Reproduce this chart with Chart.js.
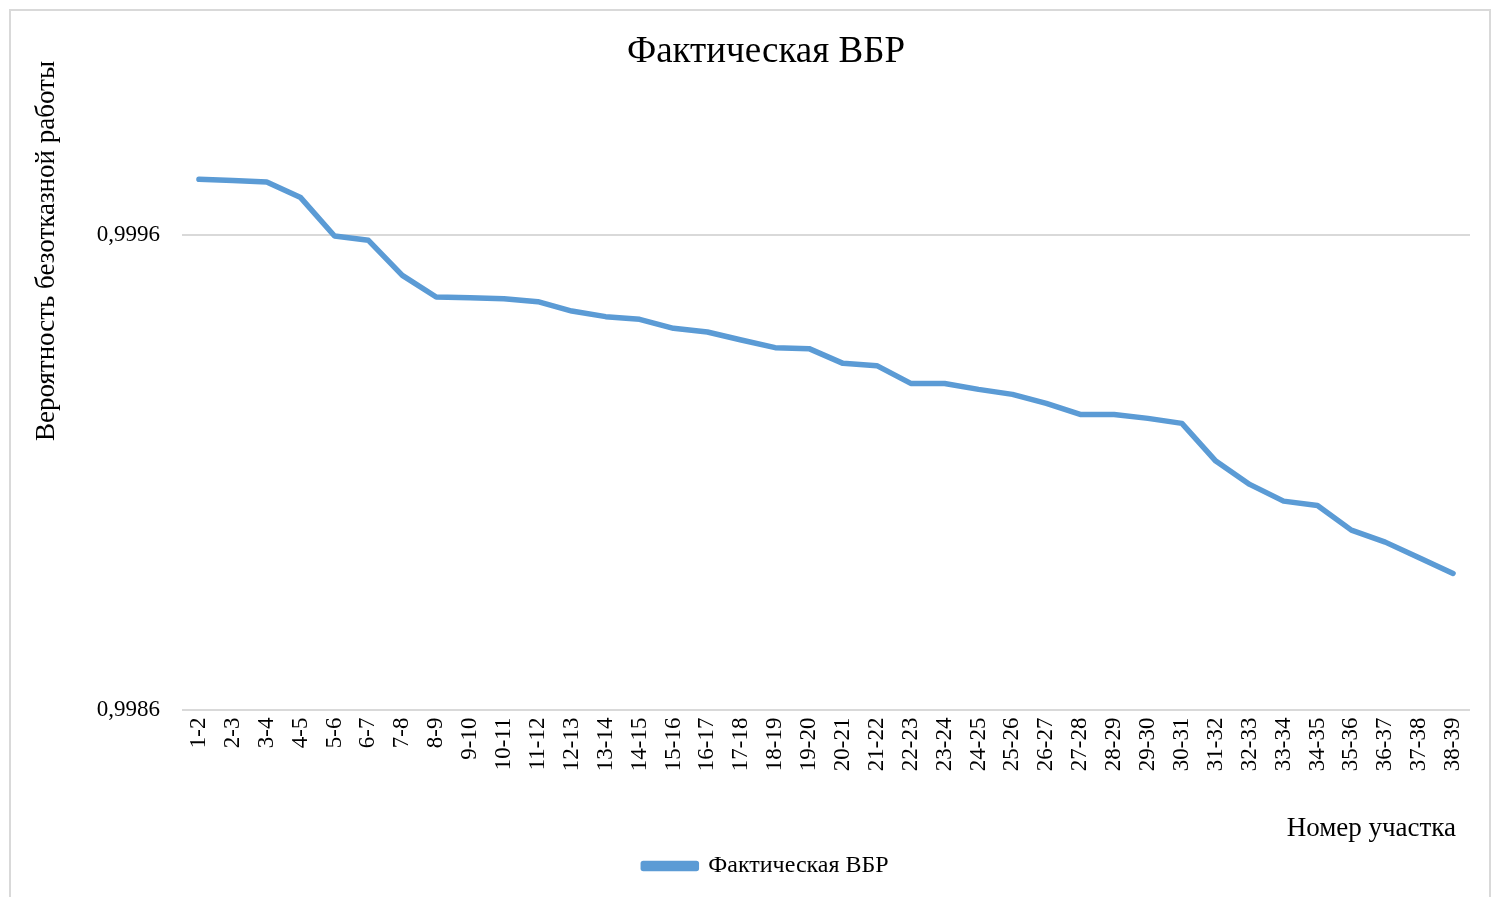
<!DOCTYPE html>
<html lang="ru">
<head>
<meta charset="utf-8">
<title>Фактическая ВБР</title>
<script src="https://cdn.jsdelivr.net/npm/chart.js@4/dist/chart.umd.min.js"></script>
<style>
  html, body { margin: 0; padding: 0; background: #fff; overflow: hidden; }
  #frame {
    position: absolute; left: 9px; top: 9px; width: 1482px; height: 920px;
    border: 2px solid #d9d9d9; box-sizing: border-box;
  }
  #wrap { position: absolute; left: 0; top: 0; width: 1501px; height: 897px; }
</style>
</head>
<body>
<div id="frame"></div>
<div id="wrap"><canvas id="chart" width="1501" height="897"></canvas></div>
<script>
// ── Data ─────────────────────────────────────────────
const sections = [
  '1-2', '2-3', '3-4', '4-5', '5-6', '6-7', '7-8', '8-9', '9-10', '10-11',
  '11-12', '12-13', '13-14', '14-15', '15-16', '16-17', '17-18', '18-19', '19-20', '20-21',
  '21-22', '22-23', '23-24', '24-25', '25-26', '26-27', '27-28', '28-29', '29-30', '30-31',
  '31-32', '32-33', '33-34', '34-35', '35-36', '36-37', '37-38', '38-39'
];

// Фактическая ВБР
const actualPBR = [
  0.9997170, 0.9997142, 0.9997113, 0.9996784, 0.9995975, 0.9995884, 0.9995146, 0.9994689, 0.9994672, 0.9994651,
  0.9994592, 0.9994394, 0.9994276, 0.9994219, 0.9994030, 0.9993952, 0.9993783, 0.9993623, 0.9993602, 0.9993292,
  0.9993243, 0.9992870, 0.9992868, 0.9992744, 0.9992639, 0.9992449, 0.9992217, 0.9992215, 0.9992133, 0.9992027,
  0.9991233, 0.9990742, 0.9990390, 0.9990299, 0.9989779, 0.9989526, 0.9989197, 0.9988866
];

const yTicks = [0.9986, 0.9996];
const Y_MIN = 0.9986;
const Y_MAX = 0.9999;

const Y_TITLE = 'Вероятность безотказной работы';
const X_TITLE = 'Номер участка';

// ── Styles ───────────────────────────────────────────
const SERIF = "'Liberation Serif', 'Times New Roman', serif";
const LINE_BLUE = '#5b9bd5';
const GRID = '#d9d9d9';
const TEXT = '#000000';

// Axis titles sit where Excel put them, not where Chart.js would
const axisTitles = {
  id: 'axisTitles',
  afterDraw(chart) {
    const { ctx, chartArea } = chart;
    ctx.save();
    ctx.fillStyle = TEXT;
    ctx.textBaseline = 'middle';

    // y title: rotated, centred near the top part of the plot
    ctx.font = '27px ' + SERIF;
    ctx.translate(47, 251);
    ctx.rotate(-Math.PI / 2);
    ctx.textAlign = 'center';
    ctx.fillText(Y_TITLE, 0, 0);
    ctx.setTransform(1, 0, 0, 1, 0, 0);

    // x title: right aligned under the tick labels
    ctx.textAlign = 'right';
    ctx.fillText(X_TITLE, chartArea.right - 14, chartArea.bottom + 119);
    ctx.restore();
  },
};

new Chart(document.getElementById('chart'), {
  type: 'line',
  data: {
    labels: sections,
    datasets: [{
      label: 'Фактическая ВБР',
      data: actualPBR,
      borderColor: LINE_BLUE,
      backgroundColor: LINE_BLUE,
      borderWidth: 5.5,
      borderCapStyle: 'round',
      borderJoinStyle: 'round',
      pointRadius: 0,
      tension: 0,
    }],
  },
  options: {
    responsive: false,
    animation: false,
    layout: { padding: { left: 62, right: 31, top: 0, bottom: 9 } },
    plugins: {
      title: {
        display: true,
        text: 'Фактическая ВБР',
        color: TEXT,
        font: { family: SERIF, size: 37, weight: 'normal' },
        padding: { top: 30, bottom: 18 },
      },
      legend: {
        position: 'bottom',
        labels: {
          color: TEXT,
          font: { family: SERIF, size: 24 },
          boxWidth: 53,
          boxHeight: 5,
          padding: 10,
        },
      },
      tooltip: { enabled: false },
    },
    scales: {
      x: {
        offset: true,
        grid: { display: false, drawTicks: false },
        border: { display: false },
        ticks: {
          color: TEXT,
          font: { family: SERIF, size: 23 },
          minRotation: 90,
          maxRotation: 90,
          autoSkip: false,
          padding: 8,
        },
        afterFit: axis => { axis.height = 134.5; },
      },
      y: {
        min: Y_MIN,
        max: Y_MAX,
        afterBuildTicks: axis => { axis.ticks = yTicks.map(v => ({ value: v })); },
        grid: { color: GRID, lineWidth: 2, drawTicks: false },
        border: { display: false },
        ticks: {
          color: TEXT,
          font: { family: SERIF, size: 23 },
          padding: 22,
          callback: v => v.toFixed(4).replace('.', ','),
        },
        afterFit: axis => { axis.width = 120; },
      },
    },
  },
  plugins: [axisTitles],
});
</script>
</body>
</html>
